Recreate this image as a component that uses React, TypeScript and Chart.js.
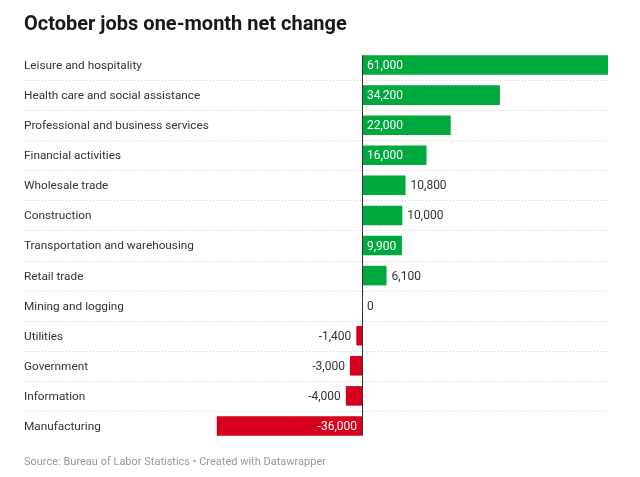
import React, { useEffect, useRef } from "react";
import { Chart, registerables } from "chart.js";

Chart.register(...registerables);

const title = "October jobs one-month net change";
const footer = "Source: Bureau of Labor Statistics • Created with Datawrapper";

const categories = [
  "Leisure and hospitality",
  "Health care and social assistance",
  "Professional and business services",
  "Financial activities",
  "Wholesale trade",
  "Construction",
  "Transportation and warehousing",
  "Retail trade",
  "Mining and logging",
  "Utilities",
  "Government",
  "Information",
  "Manufacturing",
];

const values = [61000, 34200, 22000, 16000, 10800, 10000, 9900, 6100, 0, -1400, -3000, -4000, -36000];

const labelInside = [true, true, true, true, false, false, true, false, false, false, false, false, true];

const GREEN = "#00a93d";
const RED = "#d6001c";
const FONT = "Roboto, 'Noto Sans', sans-serif";

const fmt = (v: number) => (v < 0 ? "-" : "") + Math.abs(v).toLocaleString("en-US");

const overlay = {
  id: "overlay",
  beforeDatasetsDraw(chart: any) {
    const ctx = chart.ctx;
    const y = chart.scales.y;
    const area = chart.chartArea;
    ctx.save();
    ctx.strokeStyle = "#cfcfcf";
    ctx.lineWidth = 1;
    ctx.setLineDash([1, 2]);
    for (let i = 0; i < categories.length - 1; i++) {
      const yy = Math.round((y.getPixelForValue(i) + y.getPixelForValue(i + 1)) / 2) + 0.5;
      ctx.beginPath();
      ctx.moveTo(area.left, yy);
      ctx.lineTo(area.right, yy);
      ctx.stroke();
    }
    ctx.restore();
  },
  afterDatasetsDraw(chart: any) {
    const ctx = chart.ctx;
    const x = chart.scales.x;
    const y = chart.scales.y;
    const area = chart.chartArea;
    const meta = chart.getDatasetMeta(0);
    ctx.save();
    // title
    ctx.fillStyle = "#181818";
    ctx.font = `bold 20px ${FONT}`;
    ctx.textAlign = "left";
    ctx.textBaseline = "alphabetic";
    ctx.fillText(title, 24, 30);
    // footer
    ctx.fillStyle = "#999999";
    ctx.font = `11px ${FONT}`;
    ctx.fillText(footer, 24, 465);
    // category labels
    ctx.font = `11.8px ${FONT}`;
    ctx.textBaseline = "middle";
    ctx.fillStyle = "#333333";
    categories.forEach((c, i) => {
      ctx.fillText(c, area.left, y.getPixelForValue(i) + 1);
    });
    // zero line
    const x0 = Math.round(x.getPixelForValue(0)) + 0.5;
    const first = meta.data[0];
    const last = meta.data[meta.data.length - 1];
    ctx.strokeStyle = "#333333";
    ctx.lineWidth = 1;
    ctx.beginPath();
    ctx.moveTo(x0, first.y - first.height / 2);
    ctx.lineTo(x0, last.y + last.height / 2);
    ctx.stroke();
    // value labels
    ctx.font = `12px ${FONT}`;
    values.forEach((v, i) => {
      const cy = y.getPixelForValue(i) + 1;
      const xe = x.getPixelForValue(v);
      const xz = x.getPixelForValue(0);
      const txt = fmt(v);
      if (labelInside[i]) {
        ctx.fillStyle = "#ffffff";
        if (v >= 0) {
          ctx.textAlign = "left";
          ctx.fillText(txt, xz + 5, cy);
        } else {
          ctx.textAlign = "right";
          ctx.fillText(txt, xz - 5, cy);
        }
      } else {
        ctx.fillStyle = "#333333";
        if (v >= 0) {
          ctx.textAlign = "left";
          ctx.fillText(txt, xe + 5, cy);
        } else {
          ctx.textAlign = "right";
          ctx.fillText(txt, xe - 5, cy);
        }
      }
    });
    ctx.restore();
  },
};

export default function App() {
  const ref = useRef<HTMLCanvasElement | null>(null);
  useEffect(() => {
    if (!ref.current) return;
    const chart = new Chart(ref.current, {
      type: "bar",
      data: {
        labels: categories,
        datasets: [
          {
            data: values,
            backgroundColor: values.map((v) => (v >= 0 ? GREEN : RED)),
            borderWidth: 0,
            barPercentage: 1,
            categoryPercentage: 0.65,
          },
        ],
      },
      options: {
        indexAxis: "y",
        animation: false,
        responsive: false,
        events: [],
        layout: { padding: { left: 24, right: 32, top: 50, bottom: 36 } },
        plugins: {
          legend: { display: false },
          tooltip: { enabled: false },
        },
        scales: {
          x: { type: "linear", min: -83800, max: 61000, display: false },
          y: { type: "category", display: false, offset: true },
        },
      },
      plugins: [overlay],
    });
    return () => chart.destroy();
  }, []);
  return (
    <div style={{ position: "absolute", left: 0, top: 0, width: 640, height: 477, background: "#fff" }}>
      <canvas ref={ref} width={640} height={477} style={{ display: "block" }} />
    </div>
  );
}
